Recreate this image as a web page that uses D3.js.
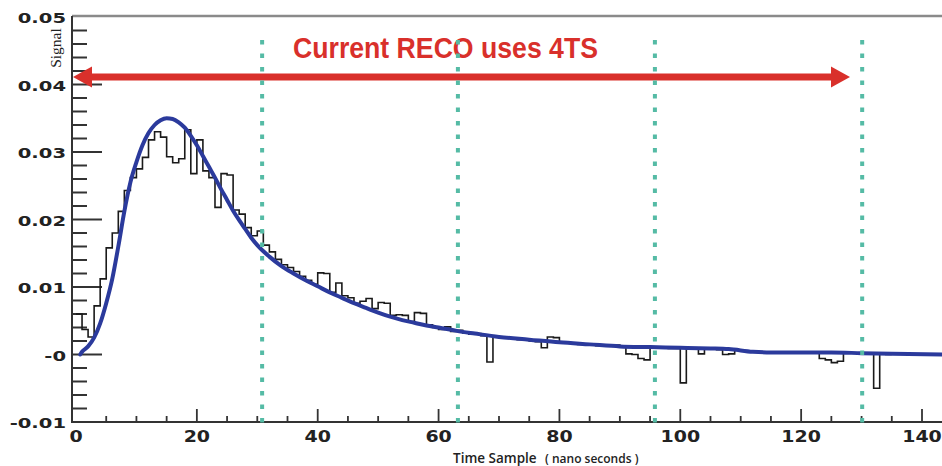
<!DOCTYPE html>
<html>
<head>
<meta charset="utf-8">
<script src="https://cdn.jsdelivr.net/npm/d3@7"></script>
<style>
  html, body { margin: 0; padding: 0; background: #fff; }
  svg { display: block; }
</style>
</head>
<body>
<svg id="chart" width="942" height="466"></svg>
<script>
// Fitted pulse shape: time (ns) and signal amplitude
const fitT = [0.7,1,2,3,4,5,6,7,8,9,10,11,12,13,14,15,16,17,18,19,20,21,22,23,24,25,26,27,28,29,30,
  32,34,36,38,40,42,44,46,48,50,52,54,56,58,60,
  63,66,70,75,80,85,90,95,100,105,108,112,115,120,125,130,135,143.5];
const fitV = [0.0000,0.0004,0.0012,0.0025,0.0046,0.0076,0.0112,0.0160,0.0212,0.0255,0.0285,
  0.0310,0.0328,0.0340,0.0347,0.0350,0.0349,0.0344,0.0336,0.0324,0.0310,
  0.0294,0.0278,0.0262,0.0245,0.0229,0.0213,0.0199,0.0186,0.0173,0.0162,
  0.0145,0.0131,0.0120,0.0110,0.0101,0.0092,0.0084,0.0076,0.0069,0.0062,0.0056,0.0051,0.0047,0.0043,0.0040,
  0.0035,0.0031,0.0026,0.0022,0.0018,0.0015,0.0012,0.0011,0.0010,0.0009,0.0008,0.0004,0.0003,0.0003,0.0003,0.0002,0.0001,0.0000];

// Measured pulse, one value per 1 ns bin starting at t = 0
const histValues = [
  0.0060,0.0037,0.0026,0.0072,0.0112,0.0158,0.0180,0.0212,0.0243,0.0262,
  0.0275,0.0292,0.0318,0.0330,0.0322,0.0293,0.0284,0.0290,0.0333,0.0268,
  0.0318,0.0272,0.0262,0.0218,0.0268,0.0266,0.0214,0.0208,0.0188,0.0176,
  0.0183,0.0162,0.0152,0.0141,0.0133,0.0129,0.0123,0.0116,0.0110,0.0104,
  0.0121,0.0120,0.0092,0.0106,0.0087,0.0084,0.0076,0.0079,0.0083,0.0068,
  0.0077,0.0076,0.0058,0.0059,0.0058,0.0049,0.0062,0.0061,0.0044,0.0040,
  0.0037,0.0041,0.0034,0.0036,0.0032,0.0030,0.0031,0.0028,-0.0011,0.0027,
  0.0025,0.0024,0.0023,0.0022,0.0022,0.0020,0.0019,0.0010,0.0026,0.0025,
  0.0017,0.0017,0.0016,0.0015,0.0015,0.0014,0.0013,0.0013,0.0014,0.0014,
  0.0011,0.0001,0.0000,-0.0006,-0.0008,0.0010,0.0010,0.0010,0.0009,0.0009,
  -0.0042,0.0009,0.0008,0.0001,0.0008,0.0008,0.0007,0.0000,0.0001,0.0006,
  0.0005,0.0005,0.0004,0.0004,0.0003,0.0003,0.0003,0.0003,0.0003,0.0003,
  0.0003,0.0003,0.0003,-0.0006,-0.0008,-0.0012,-0.0010,0.0002,0.0002,0.0002,
  0.0002,0.0002,-0.0050,0.0002,0.0000];

// Time-sample boundaries (ns)
const sampleEdges = [30.8, 63.2, 95.8, 130.1];

// Axis ticks
const xTicks = [0, 20, 40, 60, 80, 100, 120, 140];
const xTickLabels = ["0", "20", "40", "60", "80", "100", "120", "140"];
const yTicks = [0.05, 0.04, 0.03, 0.02, 0.01, 0, -0.01];
const yTickLabels = ["0.05", "0.04", "0.03", "0.02", "0.01", "-0", "-0.01"];

const titleText = "Current RECO uses 4TS";
const xTitle = "Time Sample";
const xTitleUnit = "( nano seconds )";
const yTitle = "Signal";

const svg = d3.select("#chart");

const x = d3.scaleLinear().domain([0, 140]).range([76, 922]);
const y = d3.scaleLinear().domain([-0.01, 0.05]).range([422, 17]);

const axisLeftX = 72, axisBottomY = 422, rightEdge = 942, topY = 16;

// Frame: top line and the two axis lines
svg.append("line").attr("x1", axisLeftX).attr("x2", rightEdge).attr("y1", topY).attr("y2", topY)
  .attr("stroke", "#8a8a8a").attr("stroke-width", 2.5);
svg.append("line").attr("x1", axisLeftX).attr("x2", axisLeftX).attr("y1", topY).attr("y2", axisBottomY + 1)
  .attr("stroke", "#333").attr("stroke-width", 2);
svg.append("line").attr("x1", axisLeftX).attr("x2", rightEdge).attr("y1", axisBottomY).attr("y2", axisBottomY)
  .attr("stroke", "#333").attr("stroke-width", 2);

// Y ticks (major every 0.01, minor every 0.002)
const yMinor = d3.range(-0.01, 0.0501, 0.002).filter(v => Math.abs(Math.round(v * 100) - v * 100) > 1e-6);
svg.append("g").selectAll("line").data(yMinor).join("line")
  .attr("x1", axisLeftX).attr("x2", axisLeftX + 15)
  .attr("y1", d => y(d)).attr("y2", d => y(d))
  .attr("stroke", "#333").attr("stroke-width", 2);
svg.append("g").selectAll("line").data(yTicks.filter(v => v > -0.01 && v < 0.05)).join("line")
  .attr("x1", axisLeftX).attr("x2", axisLeftX + 30)
  .attr("y1", d => y(d)).attr("y2", d => y(d))
  .attr("stroke", "#333").attr("stroke-width", 2);

// X ticks (major every 20, minor every 5)
const xMinor = d3.range(5, 141, 5).filter(v => v % 20 !== 0);
svg.append("g").selectAll("line").data(xMinor).join("line")
  .attr("x1", d => x(d)).attr("x2", d => x(d))
  .attr("y1", axisBottomY).attr("y2", axisBottomY - 6)
  .attr("stroke", "#333").attr("stroke-width", 1.8);
svg.append("g").selectAll("line").data(xTicks.filter(v => v > 0)).join("line")
  .attr("x1", d => x(d)).attr("x2", d => x(d))
  .attr("y1", axisBottomY).attr("y2", axisBottomY - 13)
  .attr("stroke", "#333").attr("stroke-width", 1.8);

// Tick labels: wide bold digits
const tickFont = "'DejaVu Sans', sans-serif";
svg.append("g").selectAll("text").data(yTicks).join("text")
  .attr("transform", d => `translate(66,${y(d) + 1.5}) scale(1.45,1)`)
  .attr("text-anchor", "end").attr("dominant-baseline", "central")
  .attr("font-family", tickFont).attr("font-weight", "bold").attr("font-size", 13.5)
  .attr("fill", "#222")
  .text((d, i) => yTickLabels[i]);
svg.append("g").selectAll("text").data(xTicks).join("text")
  .attr("transform", d => `translate(${x(d)},442) scale(1.15,1)`)
  .attr("text-anchor", "middle")
  .attr("font-family", tickFont).attr("font-weight", "bold").attr("font-size", 16.5)
  .attr("fill", "#222")
  .text((d, i) => xTickLabels[i]);

// Axis titles
svg.append("text")
  .attr("transform", "translate(61,48) rotate(-90)")
  .attr("text-anchor", "middle")
  .attr("font-family", "'Liberation Serif', 'Times New Roman', serif")
  .attr("font-size", 15.5).attr("fill", "#222")
  .text(yTitle);
const xt = svg.append("text")
  .attr("x", 453).attr("y", 463)
  .attr("font-family", "'Open Sans', sans-serif").attr("fill", "#222");
xt.append("tspan").attr("font-size", 13.5).attr("font-weight", 600).text(xTitle);
xt.append("tspan").attr("x", 545).attr("font-size", 12).attr("font-weight", 600).text(xTitleUnit);

// Arrow spanning the reconstruction window
const arrowY = 77, arrowL = x(-0.5), arrowR = 850, headLen = 19, headHalf = 10.5;
const red = "#d9302b";
svg.append("line").attr("x1", arrowL + headLen - 2).attr("x2", arrowR - headLen + 2)
  .attr("y1", arrowY).attr("y2", arrowY).attr("stroke", red).attr("stroke-width", 7);
svg.append("path")
  .attr("d", `M${arrowL},${arrowY} L${arrowL + headLen},${arrowY - headHalf} L${arrowL + headLen},${arrowY + headHalf} Z`)
  .attr("fill", red);
svg.append("path")
  .attr("d", `M${arrowR},${arrowY} L${arrowR - headLen},${arrowY - headHalf} L${arrowR - headLen},${arrowY + headHalf} Z`)
  .attr("fill", red);
svg.append("text")
  .attr("x", 293).attr("y", 58)
  .attr("font-family", "'Liberation Sans Narrow', 'Arial Narrow', sans-serif")
  .attr("font-stretch", "condensed")
  .attr("font-weight", "bold").attr("font-size", 29)
  .attr("textLength", 305).attr("lengthAdjust", "spacingAndGlyphs")
  .attr("fill", red)
  .text(titleText);

// Measured histogram (step outline)
const histPts = histValues.map((v, i) => [i, v]);
histPts.push([histValues.length, histValues[histValues.length - 1]]);
svg.append("path")
  .datum(histPts)
  .attr("fill", "none").attr("stroke", "#1a1a1a").attr("stroke-width", 1.6)
  .attr("d", d3.line().x(d => x(d[0])).y(d => y(d[1])).curve(d3.curveStepAfter));

// Fit curve
svg.append("path")
  .datum(fitT.map((t, i) => [t, fitV[i]]))
  .attr("fill", "none").attr("stroke", "#2b3a9c").attr("stroke-width", 4)
  .attr("stroke-linejoin", "round").attr("stroke-linecap", "round")
  .attr("d", d3.line().x(d => x(d[0])).y(d => y(d[1])).curve(d3.curveMonotoneX));

// Time-sample boundaries (dotted)
svg.append("g").selectAll("line").data(sampleEdges).join("line")
  .attr("x1", d => x(d)).attr("x2", d => x(d))
  .attr("y1", 40).attr("y2", 428)
  .attr("stroke", "#55bba5").attr("stroke-width", 4)
  .attr("stroke-dasharray", "4.5 9");
</script>
</body>
</html>
